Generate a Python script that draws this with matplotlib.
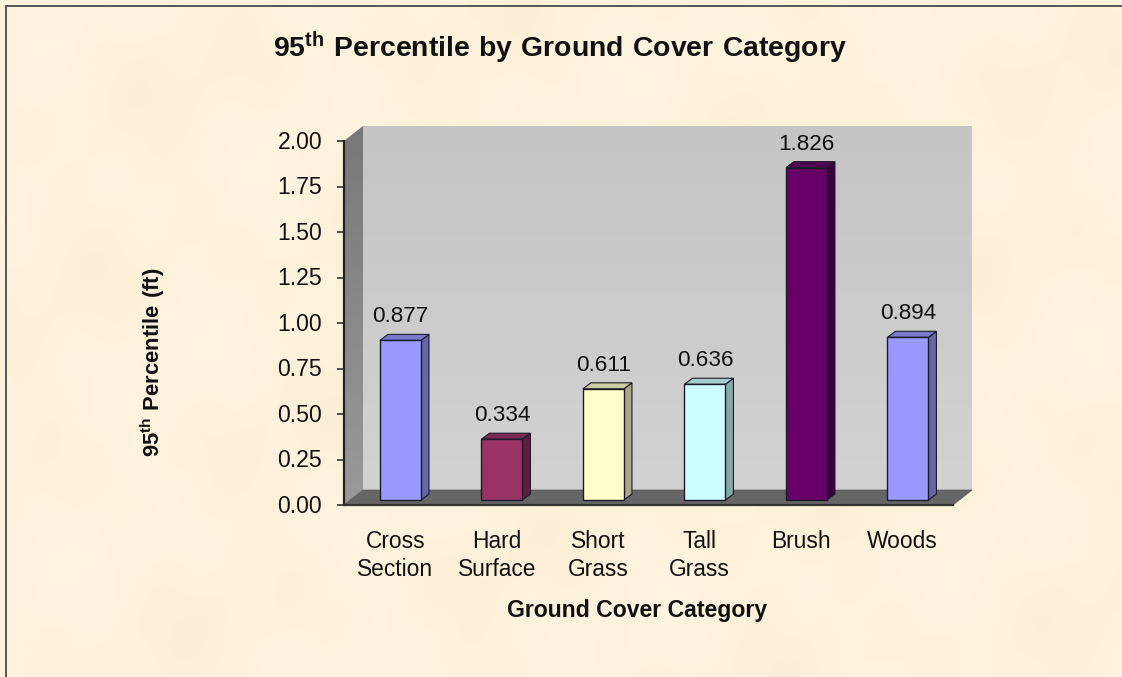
import numpy as np
import matplotlib
matplotlib.use("Agg")
import matplotlib.pyplot as plt
from matplotlib.patches import Polygon
from matplotlib.transforms import ScaledTranslation

categories = ["Cross\nSection", "Hard\nSurface", "Short\nGrass", "Tall\nGrass", "Brush", "Woods"]
values = [0.877, 0.334, 0.611, 0.636, 1.826, 0.894]
value_labels = ["0.877", "0.334", "0.611", "0.636", "1.826", "0.894"]
front_colors = ["#9999FF", "#993366", "#FFFFCC", "#CCFFFF", "#660066", "#9999FF"]
side_colors = ["#6666A8", "#5E1F3F", "#A8A886", "#86A8A8", "#3A003A", "#6666A8"]
top_colors = ["#7A7ACC", "#7A2952", "#CCCCA3", "#A3CCCC", "#520052", "#7A7ACC"]
y_ticks = [0.00, 0.25, 0.50, 0.75, 1.00, 1.25, 1.50, 1.75, 2.00]

W, H = 1122, 677
plt.rcParams["font.family"] = ["Liberation Sans", "DejaVu Sans"]
plt.rcParams["mathtext.fontset"] = "custom"
plt.rcParams["mathtext.bf"] = "Liberation Sans:bold"
plt.rcParams["mathtext.rm"] = "Liberation Sans"

fig = plt.figure(figsize=(W / 100, H / 100), dpi=100, facecolor="#F4F1E8")

# parchment background (deterministic mottling)
bg = fig.add_axes([0, 0, 1, 1], zorder=0)
yy, xx = np.mgrid[0:H, 0:W]
m = (np.sin(xx / 47 + yy / 91) + np.sin(xx / 23 - yy / 37 + 1.3) * 0.7
     + np.sin(xx / 131 + yy / 29 + 0.4) * 0.8 + np.sin(xx / 11 + yy / 17) * 0.25)
m = m / 2.75
base = np.array([253, 242, 220], float)
tex = base[None, None, :] + m[..., None] * np.array([1.0, 2.5, 5.0])
bg.imshow(np.clip(tex, 0, 255).astype(np.uint8), extent=(0, W, H, 0), aspect="auto", interpolation="bilinear")
bg.set_xlim(0, W)
bg.set_ylim(H, 0)
bg.axis("off")
bg.plot([6, 6, W], [H, 5.5, 5.5], color="#555555", lw=1.4, solid_joinstyle="miter")

# main plot: front plane of the 3D box
L, R, T, B = 344, 953, 141, 505
ax = fig.add_axes([L / W, 1 - B / H, (R - L) / W, (B - T) / H], zorder=2)
ax.set_xlim(0, 6)
ax.set_ylim(0, 2)
ax.patch.set_alpha(0)
px_x = 6 / (R - L)
px_y = 2 / (B - T)

wall_dx, wall_dy = 19 * px_x, 15 * px_y
bar_dx, bar_dy = 8 * px_x, 6 * px_y
off_x, off_y = 5.7 * px_x, 5 * px_y
bw = 41 * px_x

# walls
grad = np.linspace(0.77, 0.82, 64)[:, None]
ax.imshow(grad, extent=(wall_dx, 6 + wall_dx, wall_dy, 2 + wall_dy), origin="upper", aspect="auto",
          cmap="gray", vmin=0, vmax=1, zorder=0, clip_on=False, interpolation="bilinear")
side_wall = Polygon([(0, 0), (wall_dx, wall_dy), (wall_dx, 2 + wall_dy), (0, 2)], closed=True,
                    fc="none", ec="none", zorder=1, clip_on=False, transform=ax.transData)
ax.add_patch(side_wall)
side_grad = np.linspace(0.47, 0.60, 64)[:, None]
side_im = ax.imshow(side_grad, extent=(0, wall_dx, 0, 2 + wall_dy), origin="upper", aspect="auto",
                    cmap="gray", vmin=0, vmax=1, zorder=1, interpolation="bilinear")
side_im.set_clip_path(side_wall)
side_im.set_clip_box(fig.bbox)
ax.add_patch(Polygon([(0, 0), (6, 0), (6 + wall_dx, wall_dy), (wall_dx, wall_dy)], closed=True,
                     fc="#666666", ec="#555555", lw=0.5, zorder=1, clip_on=False))
ax.set_xlim(0, 6)
ax.set_ylim(0, 2)

# bars
xs = np.arange(len(values)) + 0.5 + off_x
ax.bar(xs, values, width=bw, bottom=off_y, color=front_colors, edgecolor="#1a1a2a", linewidth=1.0, zorder=4)
for x, v, sc, tc, lab in zip(xs, values, side_colors, top_colors, value_labels):
    l, r = x - bw / 2, x + bw / 2
    top = v + off_y
    ax.add_patch(Polygon([(r, off_y), (r + bar_dx, off_y + bar_dy), (r + bar_dx, top + bar_dy), (r, top)],
                         closed=True, fc=sc, ec="#1a1a2a", lw=0.8, zorder=3, clip_on=False))
    ax.add_patch(Polygon([(l, top), (r, top), (r + bar_dx, top + bar_dy), (l + bar_dx, top + bar_dy)],
                         closed=True, fc=tc, ec="#1a1a2a", lw=0.8, zorder=3, clip_on=False))
    ax.annotate(lab, (x, top), xytext=(0, 23.5), textcoords="offset pixels", ha="center", va="center",
                fontsize=16.2, color="#111111", zorder=6, annotation_clip=False)

# axes
ax.set_yticks(y_ticks)
ax.set_yticklabels([f"{t:.2f}" for t in y_ticks], fontsize=16.6, color="#111111")
ax.set_xticks(np.arange(len(values)) + 0.5 + 0.5 * px_x)
ax.set_xticklabels(categories, fontsize=16.4, color="#111111", linespacing=1.25)
ax.tick_params(axis="x", length=0, pad=18)
ax.tick_params(axis="y", length=5, width=1.1, color="#222222", pad=10.8)
up = ScaledTranslation(0, 1.2 / 100, fig.dpi_scale_trans)
for t in ax.get_yticklabels():
    t.set_transform(t.get_transform() + up)
for s in ("top", "right"):
    ax.spines[s].set_visible(False)
ax.spines["left"].set_linewidth(1.6)
ax.spines["left"].set_color("#222222")
ax.spines["bottom"].set_linewidth(1.6)
ax.spines["bottom"].set_color("#333333")

# titles
fig.text(560 / W, 1 - 47.5 / H, r"$\mathbf{95^{th}\ Percentile\ by\ Ground\ Cover\ Category}$",
         ha="center", va="center", fontsize=20.4, color="#111111")
fig.text(637 / W, 1 - 610 / H, "Ground Cover Category", ha="center", va="center",
         fontsize=16.6, fontweight="bold", color="#111111")
fig.text(152.5 / W, 1 - 362 / H, r"$\mathbf{95^{th}\ Percentile\ (ft)}$", ha="center", va="center",
         rotation=90, fontsize=15.8, color="#111111")

fig.savefig("out.png", dpi=100)
